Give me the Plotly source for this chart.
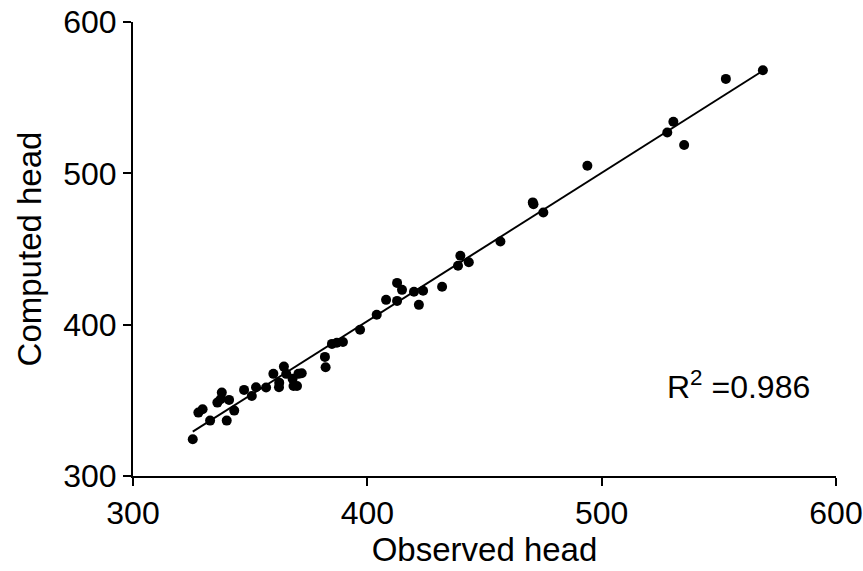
import numpy as np
import plotly.graph_objects as go

observed = [325.5, 327.9, 329.7, 332.9, 336.0, 337.4, 337.9, 340.0, 341.0, 343.2,
            347.4, 350.7, 352.5, 356.8, 359.9, 362.3, 362.4, 364.4, 365.4, 368.1,
            368.5, 370.0, 370.6, 372.0, 381.9, 382.2, 384.9, 387.0, 389.6, 396.9,
            404.0, 408.0, 412.7, 412.7, 414.8, 419.9, 422.0, 423.8, 431.9, 438.7,
            439.7, 443.3, 456.8, 470.6, 470.9, 475.1, 493.9, 528.0, 530.6, 535.2,
            553.0, 568.8]
computed = [324.3, 341.9, 344.1, 336.6, 348.5, 350.7, 355.1, 336.6, 350.3, 343.2,
            356.9, 352.9, 358.7, 358.5, 367.5, 358.7, 361.7, 372.3, 367.5, 364.2,
            359.5, 359.5, 367.5, 367.9, 378.7, 371.9, 387.3, 388.0, 388.6, 396.6,
            406.5, 416.4, 415.7, 427.6, 423.0, 421.7, 413.1, 422.4, 425.1, 438.9,
            445.5, 441.3, 455.0, 480.8, 479.6, 474.1, 505.0, 527.0, 534.1, 518.7,
            562.4, 568.1]
r2_label = "R<sup>2</sup> =0.986"
x_title = "Observed head"
y_title = "Computed head"
ticks = [300, 400, 500, 600]

slope, intercept = np.polyfit(observed, computed, 1)
fit_x = [min(observed), max(observed)]
fit_y = [slope * v + intercept for v in fit_x]

font = "Liberation Sans, Arial, sans-serif"

fig = go.Figure()
fig.add_trace(go.Scatter(x=fit_x, y=fit_y, mode="lines",
                         line=dict(color="black", width=2), showlegend=False))
fig.add_trace(go.Scatter(x=observed, y=computed, mode="markers",
                         marker=dict(color="black", size=10), showlegend=False))

axis_common = dict(range=[300, 600], tickvals=ticks, showgrid=False, zeroline=False,
                   showline=True, linecolor="black", linewidth=2, automargin=False,
                   ticks="outside", ticklen=8, tickwidth=2, tickcolor="black",
                   tickfont=dict(size=32, color="black", family=font))
fig.update_xaxes(**axis_common, title=dict(text=x_title, font=dict(size=33, color="black", family=font), standoff=5))
fig.update_yaxes(**axis_common, title=dict(text=y_title, font=dict(size=33, color="black", family=font), standoff=12))

fig.add_annotation(x=558.6, y=360.2, text=r2_label, showarrow=False,
                   font=dict(size=32, color="black", family=font))

fig.update_layout(width=863, height=571, plot_bgcolor="white", paper_bgcolor="white",
                  margin=dict(l=133, r=27, t=22, b=95))
fig.write_html("out.html")
